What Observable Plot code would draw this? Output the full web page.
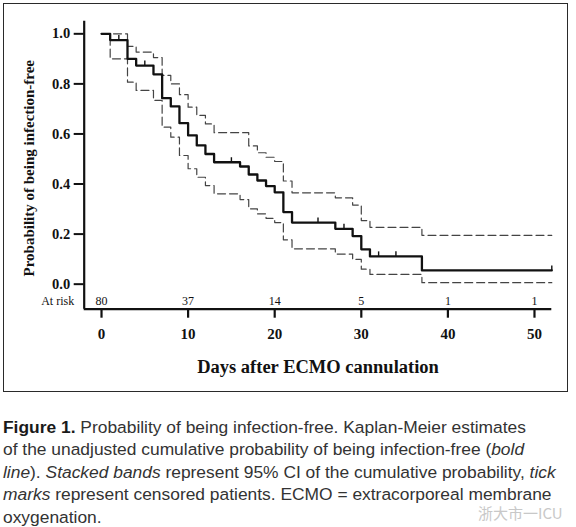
<!DOCTYPE html>
<html>
<head>
<meta charset="utf-8">
<script src="https://cdn.jsdelivr.net/npm/d3@7"></script>
<script src="https://cdn.jsdelivr.net/npm/@observablehq/plot@0.6"></script>
<style>
  html, body { margin: 0; padding: 0; background: #fff; }
  #page { position: relative; width: 576px; height: 527px; overflow: hidden; }
  #box { position: absolute; left: 3px; top: 3px; width: 565px; height: 389px; border: 1.5px solid #2a2a2a; box-sizing: border-box; }
  #chart { position: absolute; left: 0; top: 0; }
  #caption { position: absolute; left: 3px; top: 415.5px; font-family: "Liberation Sans", Arial, sans-serif; font-size: 17.4px; line-height: 22.6px; color: #333; white-space: nowrap; }
  #caption b { font-weight: bold; color: #1a1a1a; }
  #wm { position: absolute; left: 478px; top: 505px; line-height: 1; font-family: "Noto Sans CJK SC", sans-serif; font-size: 15px; color: #c8c8c8; }
</style>
</head>
<body>
<div id="page">
  <div id="box"></div>
  <div id="chart"></div>
  <div id="caption">
    <div><b>Figure 1.</b> Probability of being infection-free. Kaplan-Meier estimates</div>
    <div>of the unadjusted cumulative probability of being infection-free (<i>bold</i></div>
    <div><i>line</i>). <i>Stacked bands</i> represent 95% CI of the cumulative probability, <i>tick</i></div>
    <div><i>marks</i> represent censored patients. ECMO = extracorporeal membrane</div>
    <div>oxygenation.</div>
  </div>
  <div id="wm">浙大市一ICU</div>
</div>
<script>
// Kaplan-Meier estimate (bold line)
const kmDays = [0, 1, 3, 4, 6, 7, 8, 9, 10, 11, 12, 13, 16, 17, 18, 19, 20, 21, 22, 27, 29, 30, 31, 37, 52];
const kmSurv = [1.0, 0.975, 0.90, 0.873, 0.838, 0.743, 0.71, 0.643, 0.594, 0.554, 0.52, 0.487, 0.47, 0.438, 0.414, 0.392, 0.367, 0.288, 0.246, 0.221, 0.192, 0.139, 0.111, 0.055, 0.055];
// Upper 95% CI
const upperDays = [0, 3, 4, 6, 7, 8, 9, 10, 11, 12, 13, 17, 18, 19, 20, 21, 22, 27, 29, 30, 31, 37, 52];
const upperCI = [1.0, 0.95, 0.927, 0.905, 0.834, 0.80, 0.757, 0.707, 0.674, 0.64, 0.605, 0.552, 0.525, 0.507, 0.49, 0.412, 0.365, 0.345, 0.316, 0.254, 0.227, 0.195, 0.195];
// Lower 95% CI
const lowerDays = [0, 1, 3, 4, 6, 7, 8, 9, 10, 11, 12, 13, 16, 17, 18, 19, 20, 21, 22, 27, 29, 30, 31, 37, 52];
const lowerCI = [1.0, 0.90, 0.807, 0.774, 0.734, 0.627, 0.587, 0.514, 0.461, 0.427, 0.394, 0.361, 0.338, 0.301, 0.281, 0.263, 0.246, 0.177, 0.141, 0.12, 0.099, 0.06, 0.039, 0.006, 0.006];
// Censored patients (tick marks)
const censorDays = [2, 5, 15, 25, 28, 32, 34, 52];
const censorSurv = [0.975, 0.873, 0.487, 0.246, 0.221, 0.111, 0.111, 0.055];
// Number at risk
const riskDays = [0, 10, 20, 30, 40, 50];
const atRisk = [80, 37, 14, 5, 1, 1];
// Axis ticks
const xTicks = [0, 10, 20, 30, 40, 50];
const yTicks = [0, 0.2, 0.4, 0.6, 0.8, 1.0];

const km = kmDays.map((d, i) => ({day: d, p: kmSurv[i]}));
const up = upperDays.map((d, i) => ({day: d, p: upperCI[i]}));
const lo = lowerDays.map((d, i) => ({day: d, p: lowerCI[i]}));
const cens = censorDays.map((d, i) => ({day: d, p: censorSurv[i]}));
const risk = riskDays.map((d, i) => ({day: d, n: atRisk[i]}));

const chart = Plot.plot({
  width: 576,
  height: 395,
  marginLeft: 83.7,
  marginRight: 24.7,
  marginTop: 20.8,
  marginBottom: 86.3,
  style: {fontFamily: "Liberation Serif, Times New Roman, serif", background: "transparent", color: "#111"},
  x: {domain: [-2, 52]},
  y: {domain: [-0.1, 1.05]},
  marks: [
    Plot.axisX({ticks: xTicks, tickSize: 9, tickPadding: 10, strokeWidth: 2.2, fontSize: 15, fontWeight: "bold", label: null, tickFormat: d => String(d)}),
    Plot.axisY({ticks: yTicks, tickSize: 10, tickPadding: 4, strokeWidth: 2, fontSize: 14.5, fontWeight: "bold", label: null, tickFormat: d3.format(".1f")}),
    Plot.ruleX([-2], {stroke: "#111", strokeWidth: 2.2}),
    Plot.ruleY([-0.1], {stroke: "#111", strokeWidth: 2.2}),
    Plot.line(up, {x: "day", y: "p", curve: "step-after", stroke: "#444", strokeWidth: 1.2, strokeDasharray: "8,4"}),
    Plot.line(lo, {x: "day", y: "p", curve: "step-after", stroke: "#444", strokeWidth: 1.2, strokeDasharray: "8,4"}),
    Plot.line(km, {x: "day", y: "p", curve: "step-after", stroke: "#111", strokeWidth: 2.3}),
    Plot.ruleX(cens, {x: "day", y1: "p", y2: d => d.p + 0.018, stroke: "#111", strokeWidth: 1.4}),
    Plot.text(risk, {x: "day", frameAnchor: "bottom", lineAnchor: "middle", dy: -8, text: d => String(d.n), fontSize: 12, fill: "#111"}),
    Plot.text(["At risk"], {frameAnchor: "bottom-left", lineAnchor: "middle", dx: -10, dy: -8, textAnchor: "end", fontSize: 12, fill: "#111"}),
    Plot.text(["Days after ECMO cannulation"], {frameAnchor: "bottom", lineAnchor: "middle", dy: 58, fontSize: 18.5, fontWeight: "bold", fill: "#111"}),
    Plot.text(["Probability of being infection-free"], {frameAnchor: "left", textAnchor: "middle", lineAnchor: "middle", dx: -55, dy: 3, rotate: -90, fontSize: 15, fontWeight: "bold", fill: "#111"})
  ]
});
document.getElementById("chart").appendChild(chart);
</script>
</body>
</html>
